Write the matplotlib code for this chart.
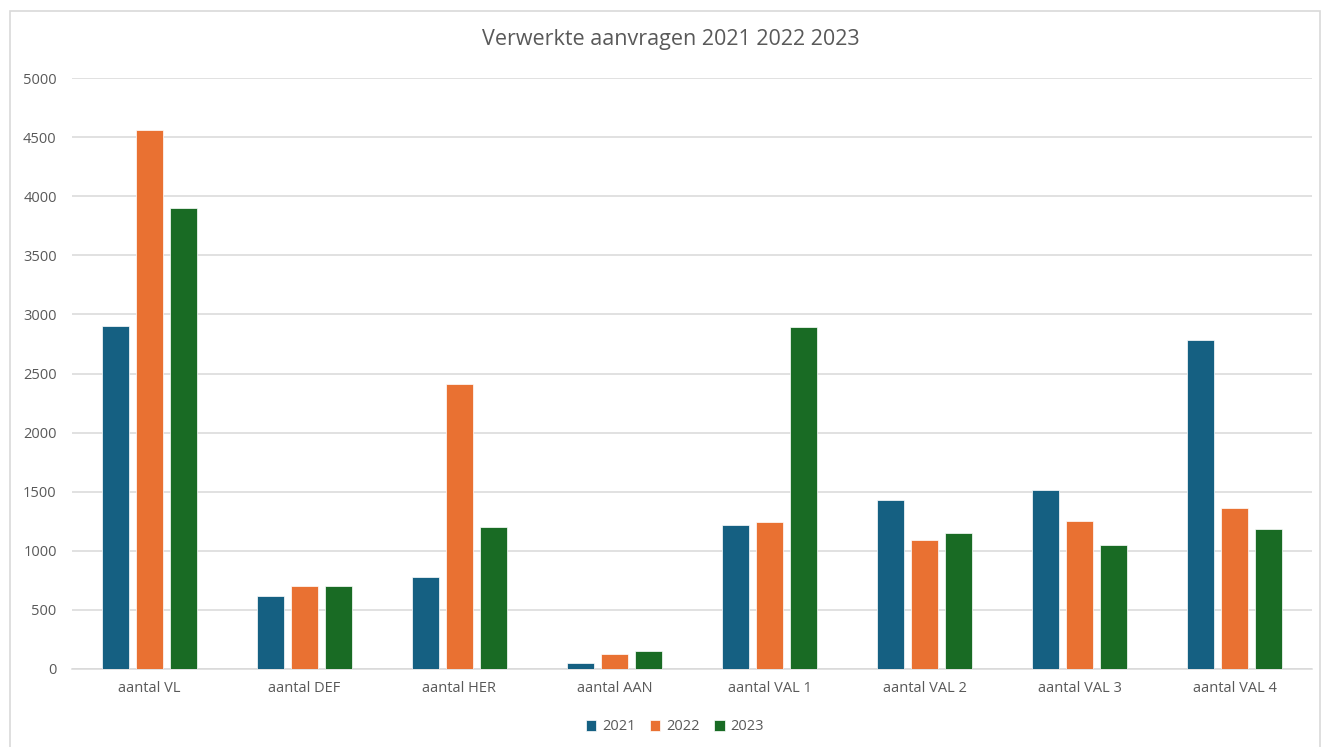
import matplotlib
matplotlib.use("Agg")
import matplotlib.pyplot as plt
import numpy as np
from matplotlib.patches import Rectangle

categories = ["aantal VL", "aantal DEF", "aantal HER", "aantal AAN",
              "aantal VAL 1", "aantal VAL 2", "aantal VAL 3", "aantal VAL 4"]
years = ["2021", "2022", "2023"]
v2021 = [2900, 620, 775, 50, 1215, 1430, 1515, 2780]
v2022 = [4560, 700, 2415, 130, 1245, 1090, 1250, 1360]
v2023 = [3900, 700, 1200, 155, 2890, 1150, 1050, 1185]
colors = ["#156082", "#E97132", "#196B24"]
yticks = [0, 500, 1000, 1500, 2000, 2500, 3000, 3500, 4000, 4500, 5000]

plt.rcParams['font.family'] = ['Open Sans', 'DejaVu Sans']
text_color = "#595959"
grid_color = "#d9d9d9"

W, H = 1322, 747
fig = plt.figure(figsize=(W/100, H/100), dpi=100)
fig.patch.set_facecolor("white")
ax = fig.add_axes([72/W, (H-669)/H, (1312-72)/W, (669-78)/H])

x = np.arange(len(categories))
bw = 0.175
step = 0.22
for i, (vals, yr) in enumerate(zip([v2021, v2022, v2023], years)):
    ax.bar(x + (i-1)*step, vals, width=bw, color=colors[i], label=yr,
           edgecolor="white", linewidth=0.5, zorder=3)

ax.set_xlim(-0.5, len(categories)-0.5)
ax.set_ylim(0, 5000)
ax.set_yticks(yticks)
ax.set_yticklabels([str(t) for t in yticks])
ax.set_xticks(x)
ax.set_xticklabels(categories)
ax.tick_params(axis='both', length=0, colors=text_color, labelsize=10.5)
ax.tick_params(axis='y', pad=11)
ax.tick_params(axis='x', pad=8.5)
ax.yaxis.grid(True, color=grid_color, linewidth=1.1, zorder=0)
for s in ["top", "right", "left"]:
    ax.spines[s].set_visible(False)
ax.spines["bottom"].set_color(grid_color)
ax.spines["bottom"].set_linewidth(1.1)
ax.set_axisbelow(True)

fig.text(671/W, 1-40/H, "Verwerkte aanvragen 2021 2022 2023", ha="center", va="center",
         fontsize=15.5, color=text_color)

leg = fig.legend(loc="center", bbox_to_anchor=(675/W, 1-727/H), ncol=3, frameon=False,
                 fontsize=10.5, handlelength=0.7, handleheight=0.7, handletextpad=0.4,
                 columnspacing=1.0)
for t in leg.get_texts():
    t.set_color(text_color)

fig.add_artist(Rectangle((10/W, -0.02), (1320-10)/W, (H-11)/H + 0.02, transform=fig.transFigure,
                         fill=False, edgecolor=grid_color, linewidth=1.2))

fig.savefig("out.png", dpi=100)
